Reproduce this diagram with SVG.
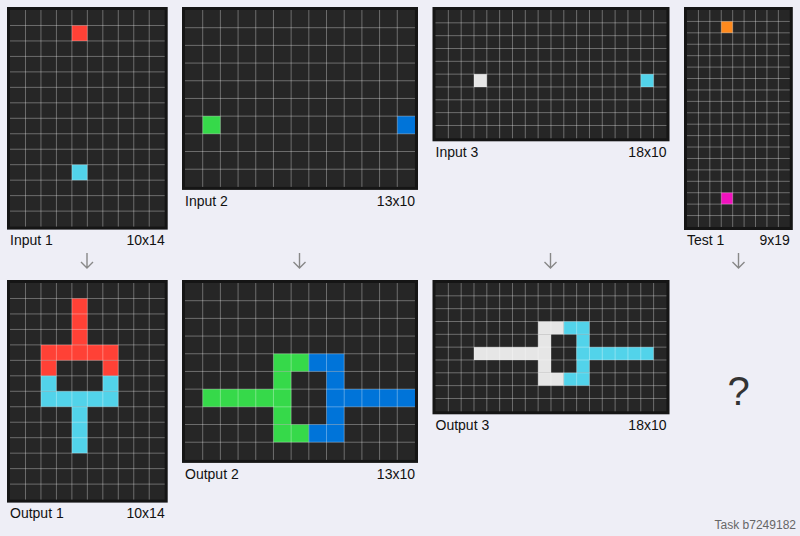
<svg xmlns="http://www.w3.org/2000/svg" xmlns:xlink="http://www.w3.org/1999/xlink" width="800" height="536" viewBox="0 0 800 536">
<style>
.bg{fill:#EEEEF6}
.frame{fill:#151515}
.cellbg{fill:#262626}
.gl{fill:none;stroke:#ffffff;stroke-opacity:0.33;stroke-width:1}
.lbl{font-family:"Liberation Sans",Arial,sans-serif;font-size:14px;fill:#111}
.r{fill:#FF4136}.c{fill:#52D3EA}.g{fill:#36D94A}.b{fill:#0074D9}.w{fill:#E6E6E6}.o{fill:#FF8A1E}.m{fill:#F012BE}
.arr{fill:none;stroke:#888;stroke-width:1.4}
</style>
<defs>
<path id="gA" vector-effect="non-scaling-stroke" class="gl" d="M1 0V14M2 0V14M3 0V14M4 0V14M5 0V14M6 0V14M7 0V14M8 0V14M9 0V14M0 1H10M0 2H10M0 3H10M0 4H10M0 5H10M0 6H10M0 7H10M0 8H10M0 9H10M0 10H10M0 11H10M0 12H10M0 13H10"/>
<path id="gB" vector-effect="non-scaling-stroke" class="gl" d="M1 0V10M2 0V10M3 0V10M4 0V10M5 0V10M6 0V10M7 0V10M8 0V10M9 0V10M10 0V10M11 0V10M12 0V10M0 1H13M0 2H13M0 3H13M0 4H13M0 5H13M0 6H13M0 7H13M0 8H13M0 9H13"/>
<path id="gC" vector-effect="non-scaling-stroke" class="gl" d="M1 0V10M2 0V10M3 0V10M4 0V10M5 0V10M6 0V10M7 0V10M8 0V10M9 0V10M10 0V10M11 0V10M12 0V10M13 0V10M14 0V10M15 0V10M16 0V10M17 0V10M0 1H18M0 2H18M0 3H18M0 4H18M0 5H18M0 6H18M0 7H18M0 8H18M0 9H18"/>
<path id="gD" vector-effect="non-scaling-stroke" class="gl" d="M1 0V19M2 0V19M3 0V19M4 0V19M5 0V19M6 0V19M7 0V19M8 0V19M0 1H9M0 2H9M0 3H9M0 4H9M0 5H9M0 6H9M0 7H9M0 8H9M0 9H9M0 10H9M0 11H9M0 12H9M0 13H9M0 14H9M0 15H9M0 16H9M0 17H9M0 18H9"/>
</defs>
<rect class="bg" x="0" y="0" width="800" height="536"/>

<g id="input1">
<rect class="frame" x="7" y="7" width="160.7" height="222.6"/>
<g transform="translate(10,10) scale(15.47)">
<rect class="cellbg" x="0" y="0" width="10" height="14"/>
<rect class="r" x="4" y="1" width="1" height="1"/>
<rect class="c" x="4" y="10" width="1" height="1"/>
<use xlink:href="#gA"/>
</g>
<text class="lbl" x="10" y="245">Input 1</text>
<text class="lbl" x="164.7" y="245" text-anchor="end">10x14</text>
</g>

<g id="input2">
<rect class="frame" x="182" y="7" width="236" height="182.9"/>
<g transform="translate(185,10) scale(17.69)">
<rect class="cellbg" x="0" y="0" width="13" height="10"/>
<rect class="g" x="1" y="6" width="1" height="1"/>
<rect class="b" x="12" y="6" width="1" height="1"/>
<use xlink:href="#gB"/>
</g>
<text class="lbl" x="185" y="206">Input 2</text>
<text class="lbl" x="415" y="206" text-anchor="end">13x10</text>
</g>

<g id="input3">
<rect class="frame" x="432.5" y="7" width="237" height="134.3"/>
<g transform="translate(435.5,10) scale(12.83)">
<rect class="cellbg" x="0" y="0" width="18" height="10"/>
<rect class="w" x="3" y="5" width="1" height="1"/>
<rect class="c" x="16" y="5" width="1" height="1"/>
<use xlink:href="#gC"/>
</g>
<text class="lbl" x="435.5" y="156.5">Input 3</text>
<text class="lbl" x="666.5" y="156.5" text-anchor="end">18x10</text>
</g>

<g id="test1">
<rect class="frame" x="684" y="7" width="108.8" height="223"/>
<g transform="translate(687,10) scale(11.42)">
<rect class="cellbg" x="0" y="0" width="9" height="19"/>
<rect class="o" x="3" y="1" width="1" height="1"/>
<rect class="m" x="3" y="16" width="1" height="1"/>
<use xlink:href="#gD"/>
</g>
<text class="lbl" x="687" y="245">Test 1</text>
<text class="lbl" x="789.8" y="245" text-anchor="end">9x19</text>
</g>

<g id="output1">
<rect class="frame" x="7" y="280" width="160.7" height="222.6"/>
<g transform="translate(10,283) scale(15.47)">
<rect class="cellbg" x="0" y="0" width="10" height="14"/>
<rect class="r" x="4" y="1" width="1" height="3"/>
<rect class="r" x="2" y="4" width="5" height="1"/>
<rect class="r" x="2" y="5" width="1" height="1"/>
<rect class="r" x="6" y="5" width="1" height="1"/>
<rect class="c" x="2" y="6" width="1" height="1"/>
<rect class="c" x="6" y="6" width="1" height="1"/>
<rect class="c" x="2" y="7" width="5" height="1"/>
<rect class="c" x="4" y="8" width="1" height="3"/>
<use xlink:href="#gA"/>
</g>
<text class="lbl" x="10" y="518">Output 1</text>
<text class="lbl" x="164.7" y="518" text-anchor="end">10x14</text>
</g>

<g id="output2">
<rect class="frame" x="182" y="280" width="236" height="182.9"/>
<g transform="translate(185,283) scale(17.69)">
<rect class="cellbg" x="0" y="0" width="13" height="10"/>
<rect class="g" x="5" y="4" width="2" height="1"/>
<rect class="g" x="5" y="5" width="1" height="3"/>
<rect class="g" x="1" y="6" width="5" height="1"/>
<rect class="g" x="5" y="8" width="2" height="1"/>
<rect class="b" x="7" y="4" width="2" height="1"/>
<rect class="b" x="8" y="5" width="1" height="3"/>
<rect class="b" x="8" y="6" width="5" height="1"/>
<rect class="b" x="7" y="8" width="2" height="1"/>
<use xlink:href="#gB"/>
</g>
<text class="lbl" x="185" y="479">Output 2</text>
<text class="lbl" x="415" y="479" text-anchor="end">13x10</text>
</g>

<g id="output3">
<rect class="frame" x="432.5" y="280" width="237" height="134.3"/>
<g transform="translate(435.5,283) scale(12.83)">
<rect class="cellbg" x="0" y="0" width="18" height="10"/>
<rect class="w" x="8" y="3" width="2" height="1"/>
<rect class="w" x="8" y="4" width="1" height="3"/>
<rect class="w" x="3" y="5" width="6" height="1"/>
<rect class="w" x="8" y="7" width="2" height="1"/>
<rect class="c" x="10" y="3" width="2" height="1"/>
<rect class="c" x="11" y="4" width="1" height="3"/>
<rect class="c" x="11" y="5" width="6" height="1"/>
<rect class="c" x="10" y="7" width="2" height="1"/>
<use xlink:href="#gC"/>
</g>
<text class="lbl" x="435.5" y="429.5">Output 3</text>
<text class="lbl" x="666.5" y="429.5" text-anchor="end">18x10</text>
</g>

<g id="unknown">
<text x="738.5" y="405" text-anchor="middle" style="font-family:'Liberation Sans',Arial,sans-serif;font-size:40px;fill:#333">?</text>
</g>

<g id="connectors">
<path class="arr" d="M87 253V268M81 262L87 268L93 262"/>
<path class="arr" d="M299.5 253V268M293.5 262L299.5 268L305.5 262"/>
<path class="arr" d="M550.5 253V268M544.5 262L550.5 268L556.5 262"/>
<path class="arr" d="M738.5 253V268M732.5 262L738.5 268L744.5 262"/>
</g>

<text x="796" y="529" text-anchor="end" style="font-family:'Liberation Sans',Arial,sans-serif;font-size:12px;fill:#666">Task b7249182</text>
</svg>
